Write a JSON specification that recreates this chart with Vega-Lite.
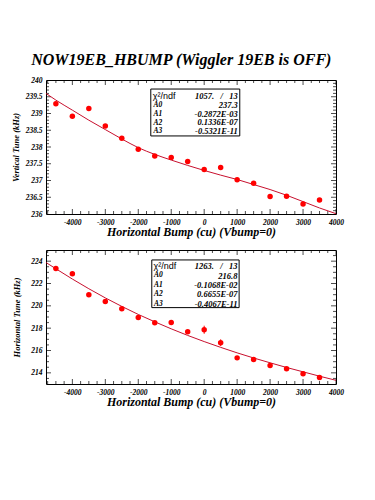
{
  "$schema": "https://vega.github.io/schema/vega-lite/v6.json",
  "background": "white",
  "padding": {"left": 10, "top": 51, "right": 5, "bottom": 5},
  "title": {"text": "NOW19EB_HBUMP (Wiggler 19EB is OFF)", "font": "Liberation Serif", "fontSize": 16, "fontStyle": "italic", "fontWeight": "bold", "color": "black", "anchor": "middle", "offset": 8, "dx": 4},
  "spacing": 11,
  "datasets": {
    "top_pts": [
      {"bump": -4500, "tune": 239.29, "lo": 239.25, "hi": 239.33},
      {"bump": -4000, "tune": 238.92, "lo": 238.88, "hi": 238.96},
      {"bump": -3500, "tune": 239.15, "lo": 239.11, "hi": 239.19},
      {"bump": -3000, "tune": 238.63, "lo": 238.59, "hi": 238.67},
      {"bump": -2500, "tune": 238.26, "lo": 238.22, "hi": 238.3},
      {"bump": -2000, "tune": 237.93, "lo": 237.89, "hi": 237.97},
      {"bump": -1500, "tune": 237.73, "lo": 237.69, "hi": 237.77},
      {"bump": -1000, "tune": 237.69, "lo": 237.65, "hi": 237.73},
      {"bump": -500, "tune": 237.57, "lo": 237.53, "hi": 237.61},
      {"bump": 0, "tune": 237.33, "lo": 237.29, "hi": 237.37},
      {"bump": 500, "tune": 237.39, "lo": 237.35, "hi": 237.43},
      {"bump": 1000, "tune": 237.02, "lo": 236.98, "hi": 237.06},
      {"bump": 1500, "tune": 236.92, "lo": 236.88, "hi": 236.96},
      {"bump": 2000, "tune": 236.52, "lo": 236.48, "hi": 236.56},
      {"bump": 2500, "tune": 236.53, "lo": 236.49, "hi": 236.57},
      {"bump": 3000, "tune": 236.3, "lo": 236.26, "hi": 236.34},
      {"bump": 3500, "tune": 236.42, "lo": 236.38, "hi": 236.46}
    ],
    "top_fit": [
      {"bump": -4800, "tune": 239.6},
      {"bump": -4500, "tune": 239.4},
      {"bump": -4000, "tune": 239.1},
      {"bump": -3500, "tune": 238.8},
      {"bump": -3000, "tune": 238.52},
      {"bump": -2500, "tune": 238.24},
      {"bump": -2000, "tune": 237.98},
      {"bump": -1500, "tune": 237.78},
      {"bump": -1000, "tune": 237.61},
      {"bump": -500, "tune": 237.45},
      {"bump": 0, "tune": 237.3},
      {"bump": 500, "tune": 237.16},
      {"bump": 1000, "tune": 237.03},
      {"bump": 1500, "tune": 236.88},
      {"bump": 2000, "tune": 236.73},
      {"bump": 2500, "tune": 236.56},
      {"bump": 3000, "tune": 236.37},
      {"bump": 3500, "tune": 236.18},
      {"bump": 4000, "tune": 236.01}
    ],
    "bot_pts": [
      {"bump": -4500, "tune": 223.34, "lo": 223.24, "hi": 223.44},
      {"bump": -4000, "tune": 222.87, "lo": 222.77, "hi": 222.97},
      {"bump": -3500, "tune": 221.0, "lo": 220.9, "hi": 221.1},
      {"bump": -3000, "tune": 220.38, "lo": 220.28, "hi": 220.48},
      {"bump": -2500, "tune": 219.73, "lo": 219.63, "hi": 219.83},
      {"bump": -2000, "tune": 218.96, "lo": 218.86, "hi": 219.06},
      {"bump": -1500, "tune": 218.48, "lo": 218.38, "hi": 218.58},
      {"bump": -1000, "tune": 218.51, "lo": 218.41, "hi": 218.61},
      {"bump": -500, "tune": 217.68, "lo": 217.58, "hi": 217.78},
      {"bump": 0, "tune": 217.86, "lo": 217.5, "hi": 218.22},
      {"bump": 500, "tune": 216.7, "lo": 216.4, "hi": 217.0},
      {"bump": 1000, "tune": 215.34, "lo": 215.24, "hi": 215.44},
      {"bump": 1500, "tune": 215.19, "lo": 215.09, "hi": 215.29},
      {"bump": 2000, "tune": 214.66, "lo": 214.56, "hi": 214.76},
      {"bump": 2500, "tune": 214.36, "lo": 214.26, "hi": 214.46},
      {"bump": 3000, "tune": 213.92, "lo": 213.82, "hi": 214.02},
      {"bump": 3500, "tune": 213.59, "lo": 213.49, "hi": 213.69}
    ],
    "bot_fit": [
      {"bump": -4800, "tune": 223.88},
      {"bump": -4500, "tune": 223.32},
      {"bump": -4000, "tune": 222.4},
      {"bump": -3500, "tune": 221.53},
      {"bump": -3000, "tune": 220.71},
      {"bump": -2500, "tune": 219.95},
      {"bump": -2000, "tune": 219.23},
      {"bump": -1500, "tune": 218.57},
      {"bump": -1000, "tune": 217.94},
      {"bump": -500, "tune": 217.35},
      {"bump": 0, "tune": 216.8},
      {"bump": 500, "tune": 216.28},
      {"bump": 1000, "tune": 215.79},
      {"bump": 1500, "tune": 215.33},
      {"bump": 2000, "tune": 214.9},
      {"bump": 2500, "tune": 214.48},
      {"bump": 3000, "tune": 214.09},
      {"bump": 3500, "tune": 213.7},
      {"bump": 4000, "tune": 213.33}
    ],
    "x_major": [{"v": -4000}, {"v": -3000}, {"v": -2000}, {"v": -1000}, {"v": 0}, {"v": 1000}, {"v": 2000}, {"v": 3000}, {"v": 4000}],
    "x_minor": [{"v": -4750}, {"v": -4500}, {"v": -4250}, {"v": -3750}, {"v": -3500}, {"v": -3250}, {"v": -2750}, {"v": -2500}, {"v": -2250}, {"v": -1750}, {"v": -1500}, {"v": -1250}, {"v": -750}, {"v": -500}, {"v": -250}, {"v": 250}, {"v": 500}, {"v": 750}, {"v": 1250}, {"v": 1500}, {"v": 1750}, {"v": 2250}, {"v": 2500}, {"v": 2750}, {"v": 3250}, {"v": 3500}, {"v": 3750}],
    "yt_major": [{"v": 236.5}, {"v": 237}, {"v": 237.5}, {"v": 238}, {"v": 238.5}, {"v": 239}, {"v": 239.5}],
    "yt_minor": [{"v": 236.1}, {"v": 236.2}, {"v": 236.3}, {"v": 236.4}, {"v": 236.6}, {"v": 236.7}, {"v": 236.8}, {"v": 236.9}, {"v": 237.1}, {"v": 237.2}, {"v": 237.3}, {"v": 237.4}, {"v": 237.6}, {"v": 237.7}, {"v": 237.8}, {"v": 237.9}, {"v": 238.1}, {"v": 238.2}, {"v": 238.3}, {"v": 238.4}, {"v": 238.6}, {"v": 238.7}, {"v": 238.8}, {"v": 238.9}, {"v": 239.1}, {"v": 239.2}, {"v": 239.3}, {"v": 239.4}, {"v": 239.6}, {"v": 239.7}, {"v": 239.8}, {"v": 239.9}],
    "yb_major": [{"v": 214}, {"v": 216}, {"v": 218}, {"v": 220}, {"v": 222}, {"v": 224}],
    "yb_minor": [{"v": 213.5}, {"v": 214.5}, {"v": 215}, {"v": 215.5}, {"v": 216.5}, {"v": 217}, {"v": 217.5}, {"v": 218.5}, {"v": 219}, {"v": 219.5}, {"v": 220.5}, {"v": 221}, {"v": 221.5}, {"v": 222.5}, {"v": 223}, {"v": 223.5}, {"v": 224.5}],
    "one": [{"k": 1}]
  },
  "vconcat": [
    {
      "width": 290,
      "height": 134,
      "resolve": {"axis": {"x": "independent", "y": "independent"}},
      "layer": [
        {
          "data": {"name": "x_major"},
          "mark": {"type": "tick", "orient": "vertical", "size": 10, "thickness": 1, "color": "black", "clip": true},
          "encoding": {
            "x": {"field": "v", "type": "quantitative", "scale": {"domain": [-4800, 4000], "nice": false, "zero": false}, "axis": null},
            "y": {"datum": 236, "type": "quantitative", "scale": {"domain": [236, 240], "nice": false, "zero": false}, "axis": null}
          }
        },
        {
          "data": {"name": "x_major"},
          "mark": {"type": "tick", "orient": "vertical", "size": 10, "thickness": 1, "color": "black", "clip": true},
          "encoding": {"x": {"field": "v", "type": "quantitative", "axis": null}, "y": {"datum": 240, "type": "quantitative", "axis": null}}
        },
        {
          "data": {"name": "x_minor"},
          "mark": {"type": "tick", "orient": "vertical", "size": 6, "thickness": 1, "color": "black", "clip": true},
          "encoding": {"x": {"field": "v", "type": "quantitative", "axis": null}, "y": {"datum": 236, "type": "quantitative", "axis": null}}
        },
        {
          "data": {"name": "x_minor"},
          "mark": {"type": "tick", "orient": "vertical", "size": 6, "thickness": 1, "color": "black", "clip": true},
          "encoding": {"x": {"field": "v", "type": "quantitative", "axis": null}, "y": {"datum": 240, "type": "quantitative", "axis": null}}
        },
        {
          "data": {"name": "yt_major"},
          "mark": {"type": "tick", "orient": "horizontal", "size": 10, "thickness": 1, "color": "black", "clip": true},
          "encoding": {"y": {"field": "v", "type": "quantitative", "axis": null}, "x": {"datum": -4800, "type": "quantitative", "axis": null}}
        },
        {
          "data": {"name": "yt_major"},
          "mark": {"type": "tick", "orient": "horizontal", "size": 10, "thickness": 1, "color": "black", "clip": true},
          "encoding": {"y": {"field": "v", "type": "quantitative", "axis": null}, "x": {"datum": 4000, "type": "quantitative", "axis": null}}
        },
        {
          "data": {"name": "yt_minor"},
          "mark": {"type": "tick", "orient": "horizontal", "size": 6, "thickness": 1, "color": "black", "clip": true},
          "encoding": {"y": {"field": "v", "type": "quantitative", "axis": null}, "x": {"datum": -4800, "type": "quantitative", "axis": null}}
        },
        {
          "data": {"name": "yt_minor"},
          "mark": {"type": "tick", "orient": "horizontal", "size": 6, "thickness": 1, "color": "black", "clip": true},
          "encoding": {"y": {"field": "v", "type": "quantitative", "axis": null}, "x": {"datum": 4000, "type": "quantitative", "axis": null}}
        },
        {
          "data": {"name": "top_pts"},
          "mark": {"type": "rule", "color": "#ff0000", "strokeWidth": 1},
          "encoding": {
            "x": {"field": "bump", "type": "quantitative", "axis": null},
            "y": {"field": "lo", "type": "quantitative", "axis": null},
            "y2": {"field": "hi"}
          }
        },
        {
          "data": {"name": "top_fit"},
          "mark": {"type": "line", "color": "#c8102e", "strokeWidth": 1, "interpolate": "monotone"},
          "encoding": {
            "x": {"field": "bump", "type": "quantitative", "axis": null},
            "y": {"field": "tune", "type": "quantitative", "axis": null}
          }
        },
        {
          "data": {"name": "top_pts"},
          "mark": {"type": "point", "shape": "circle", "filled": true, "color": "#ff0000", "opacity": 1, "size": 30},
          "encoding": {
            "x": {"field": "bump", "type": "quantitative", "axis": {"orient": "bottom", "values": [-4000,-3000,-2000,-1000,0,1000,2000,3000,4000], "labelExpr": "datum.value + ''", "labelPadding": 4, "title": "Horizontal Bump (cu) (Vbump=0)", "titleFontSize": 12, "titlePadding": 1}},
            "y": {"field": "tune", "type": "quantitative", "axis": {"orient": "left", "values": [236,236.5,237,237.5,238,238.5,239,239.5,240], "labelExpr": "datum.value + ''", "labelPadding": 4, "title": "Vertical Tune (kHz)", "titleFontSize": 8.5, "titlePadding": 5}}
          }
        },
        {
          "data": {"name": "one"},
          "mark": {"type": "rect", "fill": "white", "stroke": "black", "strokeWidth": 1},
          "encoding": {
            "x": {"datum": -1620, "type": "quantitative", "axis": null},
            "x2": {"datum": 1080},
            "y": {"datum": 239.73, "type": "quantitative", "axis": null},
            "y2": {"datum": 238.33}
          }
        },
        {
          "data": {"name": "one"},
          "mark": {"type": "text", "text": "χ²/ndf", "font": "Liberation Sans", "fontSize": 9, "align": "left", "baseline": "middle", "color": "black"},
          "encoding": {
            "x": {"datum": -1560, "type": "quantitative", "axis": null},
            "y": {"datum": 239.52, "type": "quantitative", "axis": null}
          }
        },
        {
          "data": {"name": "one"},
          "mark": {"type": "text", "text": ["A0", "A1", "A2", "A3"], "font": "Liberation Serif", "fontStyle": "italic", "fontWeight": "bold", "fontSize": 7.5, "lineHeight": 8.75, "align": "left", "baseline": "middle", "color": "black"},
          "encoding": {
            "x": {"datum": -1540, "type": "quantitative", "axis": null},
            "y": {"datum": 239.25, "type": "quantitative", "axis": null}
          }
        },
        {
          "data": {"name": "one"},
          "mark": {"type": "text", "text": ["1057.\u00a0\u00a0\u00a0/\u00a0\u00a0\u00a013", "237.3", "-0.2872E-03", "0.1336E-07", "-0.5321E-11"], "font": "Liberation Serif", "fontStyle": "italic", "fontWeight": "bold", "fontSize": 8.5, "lineHeight": 8.75, "align": "right", "baseline": "middle", "color": "black"},
          "encoding": {
            "x": {"datum": 1020, "type": "quantitative", "axis": null},
            "y": {"datum": 239.52, "type": "quantitative", "axis": null}
          }
        }
      ]
    },
    {
      "width": 290,
      "height": 134,
      "resolve": {"axis": {"x": "independent", "y": "independent"}},
      "layer": [
        {
          "data": {"name": "x_major"},
          "mark": {"type": "tick", "orient": "vertical", "size": 10, "thickness": 1, "color": "black", "clip": true},
          "encoding": {
            "x": {"field": "v", "type": "quantitative", "scale": {"domain": [-4800, 4000], "nice": false, "zero": false}, "axis": null},
            "y": {"datum": 213, "type": "quantitative", "scale": {"domain": [213, 225], "nice": false, "zero": false}, "axis": null}
          }
        },
        {
          "data": {"name": "x_major"},
          "mark": {"type": "tick", "orient": "vertical", "size": 10, "thickness": 1, "color": "black", "clip": true},
          "encoding": {"x": {"field": "v", "type": "quantitative", "axis": null}, "y": {"datum": 225, "type": "quantitative", "axis": null}}
        },
        {
          "data": {"name": "x_minor"},
          "mark": {"type": "tick", "orient": "vertical", "size": 6, "thickness": 1, "color": "black", "clip": true},
          "encoding": {"x": {"field": "v", "type": "quantitative", "axis": null}, "y": {"datum": 213, "type": "quantitative", "axis": null}}
        },
        {
          "data": {"name": "x_minor"},
          "mark": {"type": "tick", "orient": "vertical", "size": 6, "thickness": 1, "color": "black", "clip": true},
          "encoding": {"x": {"field": "v", "type": "quantitative", "axis": null}, "y": {"datum": 225, "type": "quantitative", "axis": null}}
        },
        {
          "data": {"name": "yb_major"},
          "mark": {"type": "tick", "orient": "horizontal", "size": 10, "thickness": 1, "color": "black", "clip": true},
          "encoding": {"y": {"field": "v", "type": "quantitative", "axis": null}, "x": {"datum": -4800, "type": "quantitative", "axis": null}}
        },
        {
          "data": {"name": "yb_major"},
          "mark": {"type": "tick", "orient": "horizontal", "size": 10, "thickness": 1, "color": "black", "clip": true},
          "encoding": {"y": {"field": "v", "type": "quantitative", "axis": null}, "x": {"datum": 4000, "type": "quantitative", "axis": null}}
        },
        {
          "data": {"name": "yb_minor"},
          "mark": {"type": "tick", "orient": "horizontal", "size": 6, "thickness": 1, "color": "black", "clip": true},
          "encoding": {"y": {"field": "v", "type": "quantitative", "axis": null}, "x": {"datum": -4800, "type": "quantitative", "axis": null}}
        },
        {
          "data": {"name": "yb_minor"},
          "mark": {"type": "tick", "orient": "horizontal", "size": 6, "thickness": 1, "color": "black", "clip": true},
          "encoding": {"y": {"field": "v", "type": "quantitative", "axis": null}, "x": {"datum": 4000, "type": "quantitative", "axis": null}}
        },
        {
          "data": {"name": "bot_pts"},
          "mark": {"type": "rule", "color": "#ff0000", "strokeWidth": 1},
          "encoding": {
            "x": {"field": "bump", "type": "quantitative", "axis": null},
            "y": {"field": "lo", "type": "quantitative", "axis": null},
            "y2": {"field": "hi"}
          }
        },
        {
          "data": {"name": "bot_fit"},
          "mark": {"type": "line", "color": "#c8102e", "strokeWidth": 1, "interpolate": "monotone"},
          "encoding": {
            "x": {"field": "bump", "type": "quantitative", "axis": null},
            "y": {"field": "tune", "type": "quantitative", "axis": null}
          }
        },
        {
          "data": {"name": "bot_pts"},
          "mark": {"type": "point", "shape": "circle", "filled": true, "color": "#ff0000", "opacity": 1, "size": 30},
          "encoding": {
            "x": {"field": "bump", "type": "quantitative", "axis": {"orient": "bottom", "values": [-4000,-3000,-2000,-1000,0,1000,2000,3000,4000], "labelExpr": "datum.value + ''", "labelPadding": 4, "title": "Horizontal Bump (cu) (Vbump=0)", "titleFontSize": 12, "titlePadding": 1}},
            "y": {"field": "tune", "type": "quantitative", "axis": {"orient": "left", "values": [214,216,218,220,222,224], "labelExpr": "datum.value + ''", "labelPadding": 4, "title": "Horizontal Tune (kHz)", "titleFontSize": 8.5, "titlePadding": 9}}
          }
        },
        {
          "data": {"name": "one"},
          "mark": {"type": "rect", "fill": "white", "stroke": "black", "strokeWidth": 1},
          "encoding": {
            "x": {"datum": -1590, "type": "quantitative", "axis": null},
            "x2": {"datum": 1060},
            "y": {"datum": 224.11, "type": "quantitative", "axis": null},
            "y2": {"datum": 219.84}
          }
        },
        {
          "data": {"name": "one"},
          "mark": {"type": "text", "text": "χ²/ndf", "font": "Liberation Sans", "fontSize": 9, "align": "left", "baseline": "middle", "color": "black"},
          "encoding": {
            "x": {"datum": -1540, "type": "quantitative", "axis": null},
            "y": {"datum": 223.54, "type": "quantitative", "axis": null}
          }
        },
        {
          "data": {"name": "one"},
          "mark": {"type": "text", "text": ["A0", "A1", "A2", "A3"], "font": "Liberation Serif", "fontStyle": "italic", "fontWeight": "bold", "fontSize": 7.5, "lineHeight": 9.4, "align": "left", "baseline": "middle", "color": "black"},
          "encoding": {
            "x": {"datum": -1520, "type": "quantitative", "axis": null},
            "y": {"datum": 222.72, "type": "quantitative", "axis": null}
          }
        },
        {
          "data": {"name": "one"},
          "mark": {"type": "text", "text": ["1263.\u00a0\u00a0\u00a0/\u00a0\u00a0\u00a013", "216.8", "-0.1068E-02", "0.6655E-07", "-0.4067E-11"], "font": "Liberation Serif", "fontStyle": "italic", "fontWeight": "bold", "fontSize": 8.5, "lineHeight": 9.4, "align": "right", "baseline": "middle", "color": "black"},
          "encoding": {
            "x": {"datum": 1010, "type": "quantitative", "axis": null},
            "y": {"datum": 223.54, "type": "quantitative", "axis": null}
          }
        }
      ]
    }
  ],
  "config": {
    "view": {"stroke": "black", "strokeWidth": 1},
    "axis": {
      "grid": false,
      "ticks": false,
      "domain": false,
      "labelColor": "black",
      "titleColor": "black",
      "labelFont": "Liberation Serif",
      "labelFontStyle": "italic",
      "labelFontWeight": "bold",
      "labelFontSize": 7.5,
      "labelFlush": false,
      "labelOverlap": false,
      "labelBound": false,
      "titleFont": "Liberation Serif",
      "titleFontStyle": "italic",
      "titleFontWeight": "bold"
    }
  }
}
